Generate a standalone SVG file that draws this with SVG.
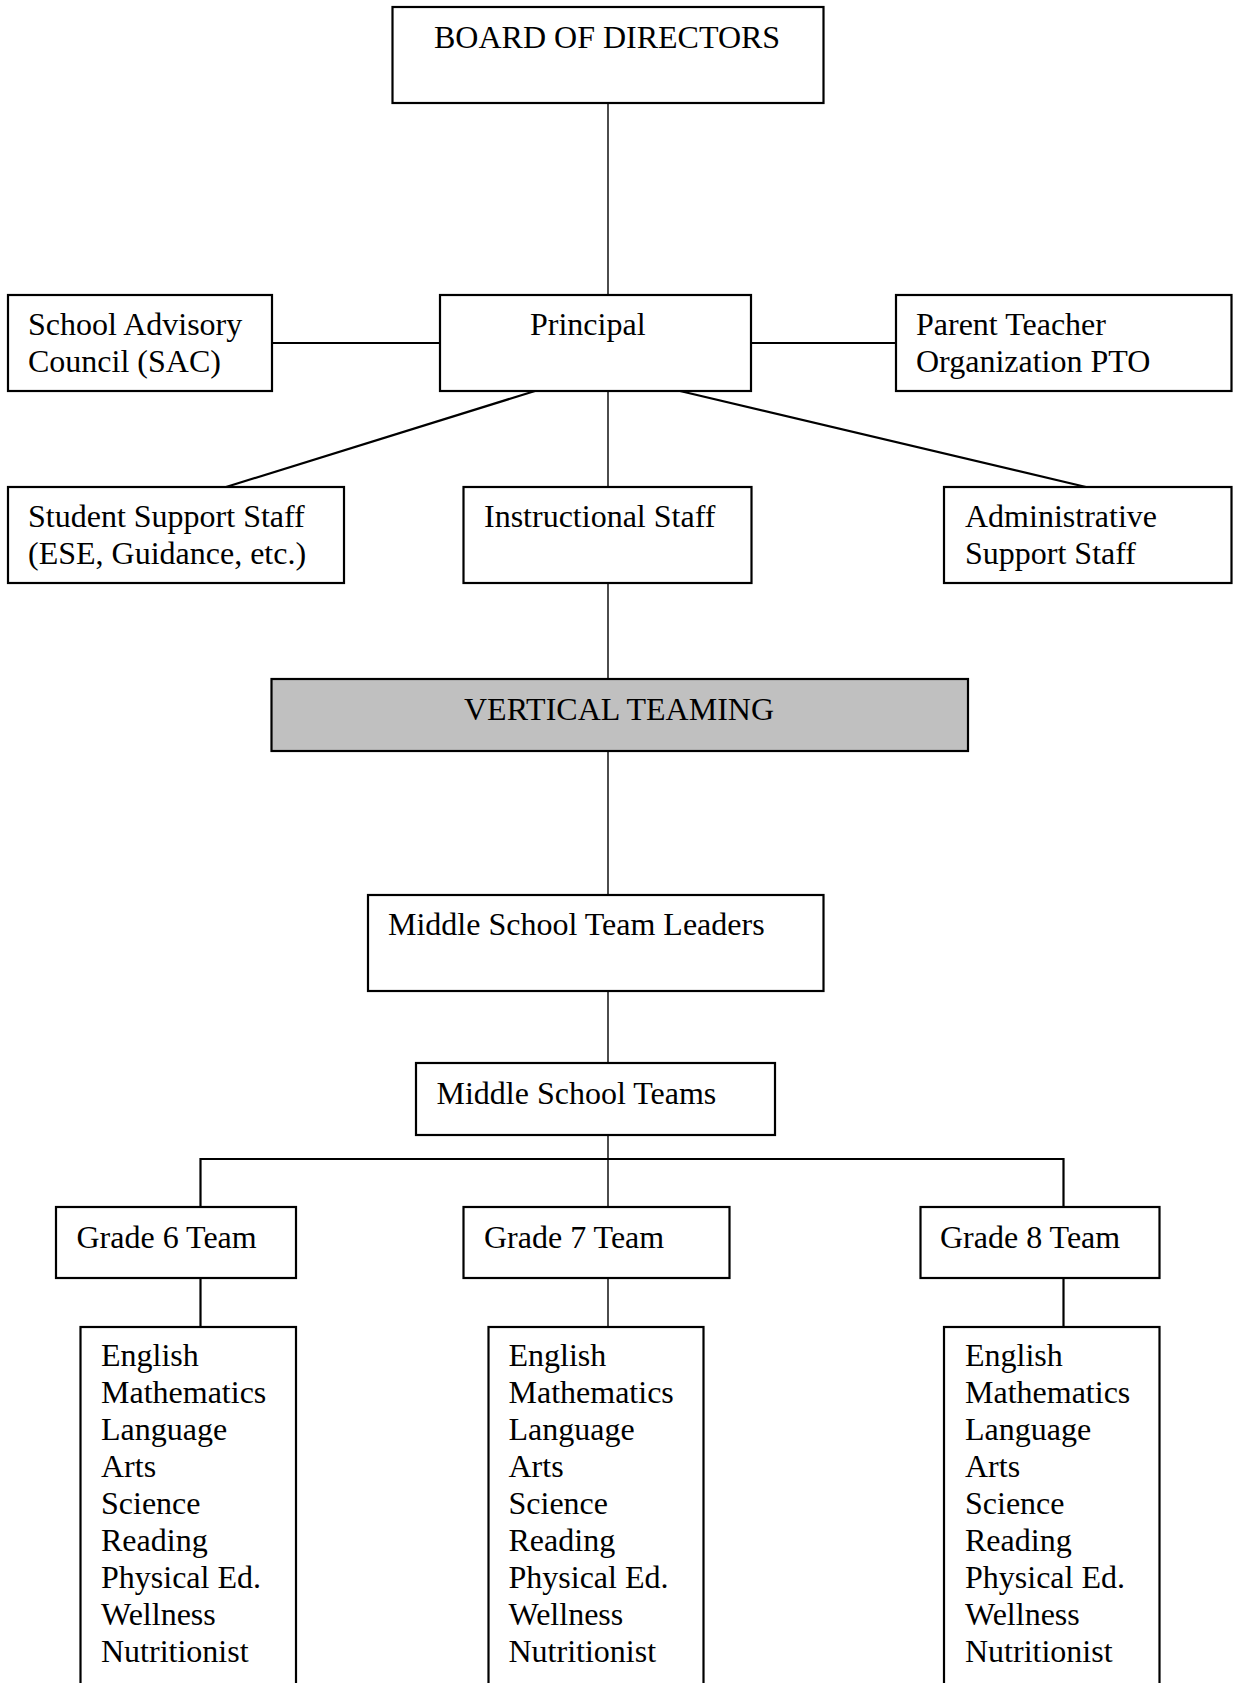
<svg xmlns="http://www.w3.org/2000/svg" width="1238" height="1683" viewBox="0 0 1238 1683">
<style>
.box{fill:#ffffff;stroke:#000;stroke-width:2.2}
.gray{fill:#c0c0c0}
.t{font-family:"Liberation Serif","Times New Roman",serif;font-size:32px;fill:#000}
.c{stroke:#000;stroke-width:2.2;fill:none}
.thin{stroke:#000;stroke-width:1.4;fill:none}
</style>
<rect width="1238" height="1683" fill="#ffffff"/>
<g id="connectors">
<line class="thin" x1="608" y1="103" x2="608" y2="295"/>
<line class="c" x1="272" y1="343" x2="440" y2="343"/>
<line class="c" x1="751" y1="343" x2="896" y2="343"/>
<line class="c" x1="535" y1="391" x2="226" y2="487"/>
<line class="c" x1="680" y1="391" x2="1086" y2="487"/>
<line class="thin" x1="608" y1="391" x2="608" y2="487"/>
<line class="thin" x1="608" y1="583" x2="608" y2="679"/>
<line class="thin" x1="608" y1="751" x2="608" y2="895"/>
<line class="thin" x1="608" y1="991" x2="608" y2="1063"/>
<line class="thin" x1="608" y1="1135" x2="608" y2="1207"/>
<polyline class="c" points="200.5,1207 200.5,1159 1063.5,1159 1063.5,1207"/>
<line class="c" x1="200.5" y1="1278" x2="200.5" y2="1327"/>
<line class="thin" x1="608" y1="1278" x2="608" y2="1327"/>
<line class="c" x1="1063.5" y1="1278" x2="1063.5" y2="1327"/>
</g>
<g id="board"><rect class="box" x="392.5" y="7" width="431" height="96"/><text class="t" x="434" y="48">BOARD OF DIRECTORS</text></g>
<g id="sac"><rect class="box" x="8" y="295" width="264" height="96"/><text class="t" x="28" y="335">School Advisory</text><text class="t" x="28" y="372">Council (SAC)</text></g>
<g id="principal"><rect class="box" x="440" y="295" width="311" height="96"/><text class="t" x="530" y="335">Principal</text></g>
<g id="pto"><rect class="box" x="896" y="295" width="335.5" height="96"/><text class="t" x="916" y="335">Parent Teacher</text><text class="t" x="916" y="372">Organization PTO</text></g>
<g id="student-support"><rect class="box" x="8" y="487" width="336" height="96"/><text class="t" x="28" y="527">Student Support Staff</text><text class="t" x="28" y="564">(ESE, Guidance, etc.)</text></g>
<g id="instructional"><rect class="box" x="463.5" y="487" width="288" height="96"/><text class="t" x="484" y="527">Instructional Staff</text></g>
<g id="admin-support"><rect class="box" x="944" y="487" width="287.5" height="96"/><text class="t" x="965" y="527">Administrative</text><text class="t" x="965" y="564">Support Staff</text></g>
<g id="vertical-teaming"><rect class="box gray" x="271.5" y="679" width="696.5" height="72"/><text class="t" x="464" y="720">VERTICAL TEAMING</text></g>
<g id="ms-team-leaders"><rect class="box" x="368" y="895" width="455.5" height="96"/><text class="t" x="388" y="935">Middle School Team Leaders</text></g>
<g id="ms-teams"><rect class="box" x="416" y="1063" width="359" height="72"/><text class="t" x="436.5" y="1104">Middle School Teams</text></g>
<g id="grade6"><rect class="box" x="56" y="1207" width="240" height="71"/><text class="t" x="76.5" y="1248">Grade 6 Team</text></g>
<g id="grade7"><rect class="box" x="463.5" y="1207" width="266" height="71"/><text class="t" x="484" y="1248">Grade 7 Team</text></g>
<g id="grade8"><rect class="box" x="920.5" y="1207" width="239" height="71"/><text class="t" x="940" y="1248">Grade 8 Team</text></g>
<g id="subjects6"><rect class="box" x="80.5" y="1327" width="215.5" height="380"/>
<text class="t" x="101" y="1366">English</text><text class="t" x="101" y="1403">Mathematics</text><text class="t" x="101" y="1440">Language</text><text class="t" x="101" y="1477">Arts</text><text class="t" x="101" y="1514">Science</text><text class="t" x="101" y="1551">Reading</text><text class="t" x="101" y="1588">Physical Ed.</text><text class="t" x="101" y="1625">Wellness</text><text class="t" x="101" y="1662">Nutritionist</text></g>
<g id="subjects7"><rect class="box" x="488.5" y="1327" width="215" height="380"/>
<text class="t" x="508.5" y="1366">English</text><text class="t" x="508.5" y="1403">Mathematics</text><text class="t" x="508.5" y="1440">Language</text><text class="t" x="508.5" y="1477">Arts</text><text class="t" x="508.5" y="1514">Science</text><text class="t" x="508.5" y="1551">Reading</text><text class="t" x="508.5" y="1588">Physical Ed.</text><text class="t" x="508.5" y="1625">Wellness</text><text class="t" x="508.5" y="1662">Nutritionist</text></g>
<g id="subjects8"><rect class="box" x="944" y="1327" width="215.5" height="380"/>
<text class="t" x="965" y="1366">English</text><text class="t" x="965" y="1403">Mathematics</text><text class="t" x="965" y="1440">Language</text><text class="t" x="965" y="1477">Arts</text><text class="t" x="965" y="1514">Science</text><text class="t" x="965" y="1551">Reading</text><text class="t" x="965" y="1588">Physical Ed.</text><text class="t" x="965" y="1625">Wellness</text><text class="t" x="965" y="1662">Nutritionist</text></g>
</svg>
